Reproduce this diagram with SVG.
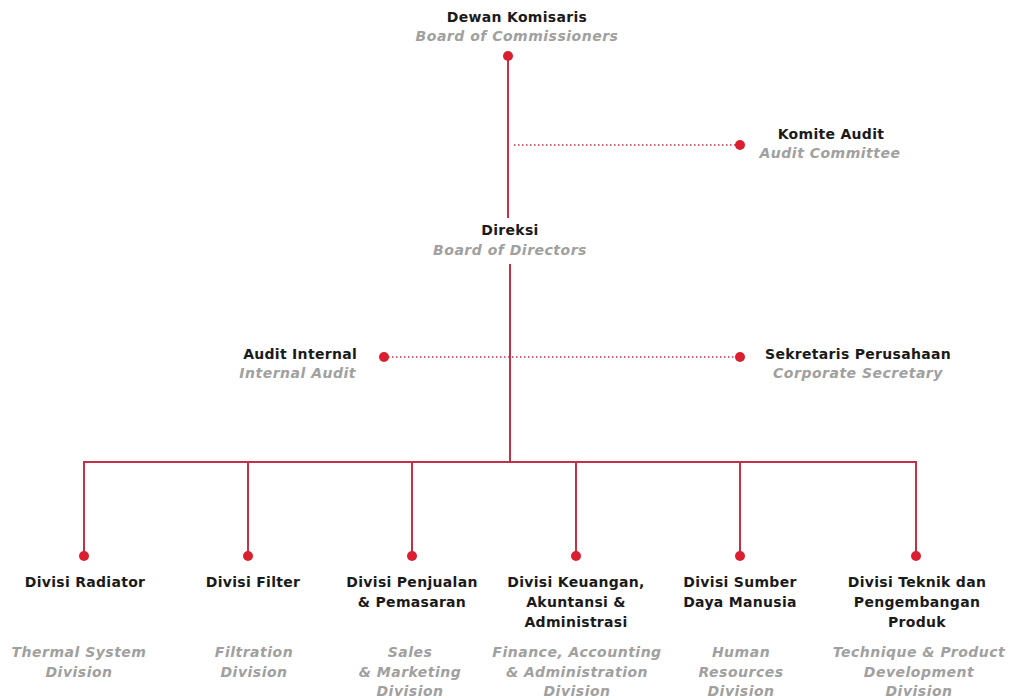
<svg xmlns="http://www.w3.org/2000/svg" width="1024" height="698" viewBox="0 0 1024 698">
<style>
.t{font-family:"DejaVu Sans",Verdana,sans-serif;font-size:14px;font-weight:bold;fill:#1a1a1a;text-anchor:middle;letter-spacing:0.3px}
.e{font-family:"DejaVu Sans",Verdana,sans-serif;font-size:14px;font-weight:bold;font-style:italic;fill:#a0a0a0;text-anchor:middle;letter-spacing:0.5px}
.r{text-anchor:end}
.ln{stroke:#c2304a;stroke-width:2;fill:none}
.dt{stroke:#c2304a;stroke-width:1.5;stroke-dasharray:1.5 2.5;fill:none}
.d{fill:#d91f30}
</style>
<rect width="1024" height="698" fill="#fff"/>
<g id="connectors">
<line class="ln" x1="508" y1="56" x2="508" y2="218"/>
<line class="ln" x1="510" y1="264" x2="510" y2="462"/>
<line class="dt" x1="514" y1="145" x2="740" y2="145"/>
<line class="dt" x1="384" y1="357" x2="740" y2="357"/>
<polyline class="ln" points="84,556 84,462 916,462 916,556"/>
<line class="ln" x1="248" y1="462" x2="248" y2="556"/>
<line class="ln" x1="412" y1="462" x2="412" y2="556"/>
<line class="ln" x1="576" y1="462" x2="576" y2="556"/>
<line class="ln" x1="740" y1="462" x2="740" y2="556"/>
</g>
<g id="n-komisaris">
<circle class="d" cx="508" cy="56" r="5"/>
<text class="t" x="517" y="22">Dewan Komisaris</text>
<text class="e" x="517" y="41">Board of Commissioners</text>
</g>
<g id="n-komite">
<circle class="d" cx="740" cy="145" r="5"/>
<text class="t" x="831" y="139">Komite Audit</text>
<text class="e" x="830" y="158">Audit Committee</text>
</g>
<g id="n-direksi">
<text class="t" x="510" y="235">Direksi</text>
<text class="e" x="510" y="255">Board of Directors</text>
</g>
<g id="n-audit-internal">
<circle class="d" cx="384" cy="357" r="5"/>
<text class="t r" x="357" y="359">Audit Internal</text>
<text class="e r" x="356" y="378">Internal Audit</text>
</g>
<g id="n-sekretaris">
<circle class="d" cx="740" cy="357" r="5"/>
<text class="t" x="858" y="359">Sekretaris Perusahaan</text>
<text class="e" x="858" y="378">Corporate Secretary</text>
</g>
<g id="n-radiator">
<circle class="d" cx="84" cy="556" r="5"/>
<text class="t" x="85" y="587">Divisi Radiator</text>
<text class="e" x="79" y="657">Thermal System</text>
<text class="e" x="79" y="677">Division</text>
</g>
<g id="n-filter">
<circle class="d" cx="248" cy="556" r="5"/>
<text class="t" x="253" y="587">Divisi Filter</text>
<text class="e" x="254" y="657">Filtration</text>
<text class="e" x="254" y="677">Division</text>
</g>
<g id="n-penjualan">
<circle class="d" cx="412" cy="556" r="5"/>
<text class="t" x="412" y="587">Divisi Penjualan</text>
<text class="t" x="412" y="607">&amp; Pemasaran</text>
<text class="e" x="410" y="657">Sales</text>
<text class="e" x="410" y="677">&amp; Marketing</text>
<text class="e" x="410" y="696">Division</text>
</g>
<g id="n-keuangan">
<circle class="d" cx="576" cy="556" r="5"/>
<text class="t" x="576" y="587">Divisi Keuangan,</text>
<text class="t" x="576" y="607">Akuntansi &amp;</text>
<text class="t" x="576" y="627">Administrasi</text>
<text class="e" x="577" y="657">Finance, Accounting</text>
<text class="e" x="577" y="677">&amp; Administration</text>
<text class="e" x="577" y="696">Division</text>
</g>
<g id="n-sdm">
<circle class="d" cx="740" cy="556" r="5"/>
<text class="t" x="740" y="587">Divisi Sumber</text>
<text class="t" x="740" y="607">Daya Manusia</text>
<text class="e" x="741" y="657">Human</text>
<text class="e" x="741" y="677">Resources</text>
<text class="e" x="741" y="696">Division</text>
</g>
<g id="n-teknik">
<circle class="d" cx="916" cy="556" r="5"/>
<text class="t" x="917" y="587">Divisi Teknik dan</text>
<text class="t" x="917" y="607">Pengembangan</text>
<text class="t" x="917" y="627">Produk</text>
<text class="e" x="919" y="657">Technique &amp; Product</text>
<text class="e" x="919" y="677">Development</text>
<text class="e" x="919" y="696">Division</text>
</g>
</svg>
